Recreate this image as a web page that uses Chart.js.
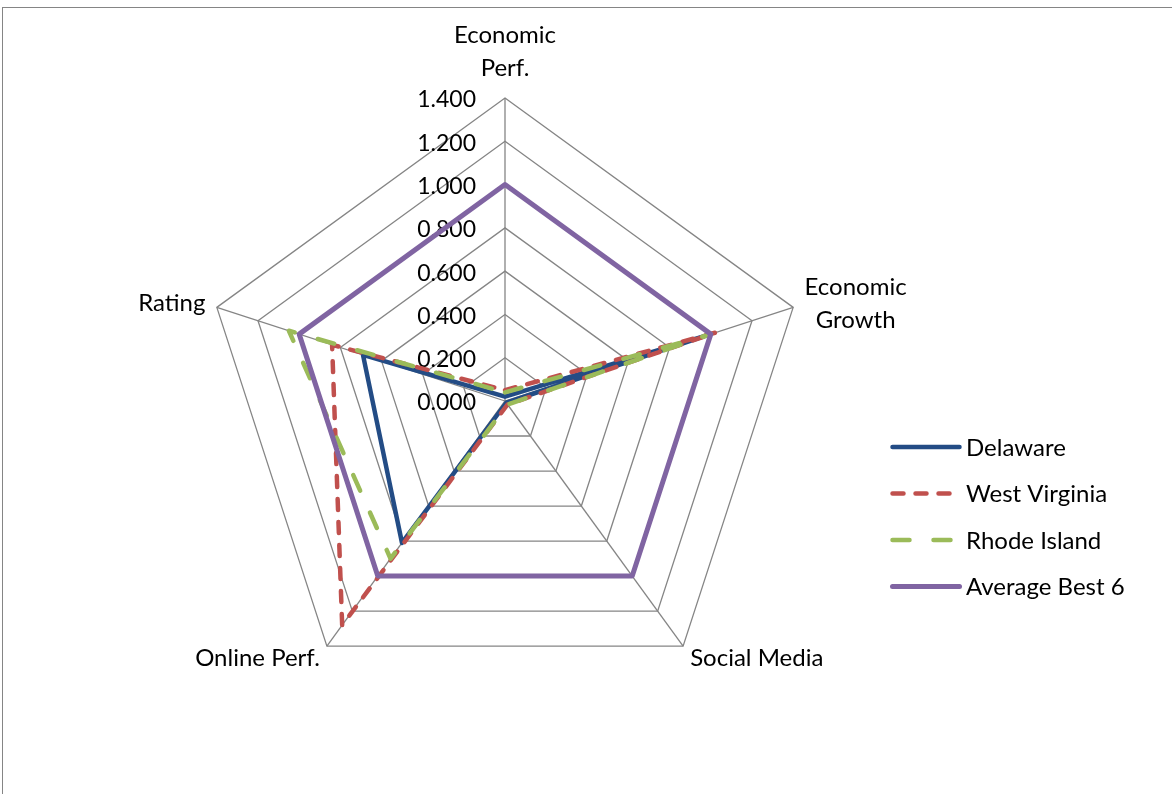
<!DOCTYPE html>
<html>
<head>
<meta charset="utf-8">
<title>State comparison radar</title>
<script src="https://cdn.jsdelivr.net/npm/chart.js@4.4.1/dist/chart.umd.min.js"></script>
<style>
  html, body { margin: 0; padding: 0; background: #fff; }
</style>
</head>
<body>
<canvas id="radarChart" width="1172" height="794"></canvas>
<script>
const categories = [['Economic', 'Perf.'], ['Economic', 'Growth'], 'Social Media', 'Online Perf.', 'Rating'];
const delaware = [0.02, 0.98, 0.01, 0.81, 0.69];
const westVirginia = [0.05, 1.02, 0.02, 1.28, 0.84];
const rhodeIsland = [0.04, 1.00, 0.02, 0.90, 1.05];
const averageBest6 = [1.00, 1.00, 1.00, 1.00, 1.00];
const tickValues = [0, 0.2, 0.4, 0.6, 0.8, 1.0, 1.2, 1.4];

const tickFont = '23px Lato, "Open Sans", sans-serif';
const labelFont = '24px Lato, "Open Sans", sans-serif';
const gridGray = '#858585';

// white page plus the thin frame round the chart
const chartFrame = {
  id: 'chartFrame',
  beforeDraw(chart) {
    const { ctx, width, height } = chart;
    ctx.save();
    ctx.fillStyle = '#ffffff';
    ctx.fillRect(0, 0, width, height);
    ctx.strokeStyle = gridGray;
    ctx.lineWidth = 1;
    ctx.strokeRect(2.5, 7.5, width + 20, height + 20);
    ctx.restore();
  }
};

// tick values left of the vertical axis, axis names outside the web
const scaleText = {
  id: 'scaleText',
  beforeDatasetsDraw(chart) {
    const r = chart.scales.r;
    const ctx = chart.ctx;
    ctx.save();
    ctx.fillStyle = '#000';
    ctx.textBaseline = 'middle';

    ctx.font = tickFont;
    ctx.textAlign = 'right';
    tickValues.forEach(v => {
      const y = r.yCenter - r.getDistanceFromCenterForValue(v);
      ctx.fillText(v.toFixed(3), r.xCenter - 29, y + 2);
    });

    ctx.font = labelFont;
    const lineGap = 33;
    categories.forEach((name, i) => {
      const lines = Array.isArray(name) ? name : [name];
      const p = r.getPointPosition(i, r.drawingArea + 12);
      ctx.textAlign = 'center';
      if (Math.abs(p.x - r.xCenter) < 1) {
        lines.forEach((t, k) => {
          ctx.fillText(t, p.x, p.y - 18 - (lines.length - 1 - k) * lineGap);
        });
      } else {
        const blockW = Math.max(...lines.map(t => ctx.measureText(t).width));
        const cx = p.x > r.xCenter ? p.x + blockW / 2 : p.x - blockW / 2;
        const cy = p.y < r.yCenter ? p.y : p.y + 2;
        lines.forEach((t, k) => {
          ctx.fillText(t, cx, cy + (k - (lines.length - 1) / 2) * lineGap);
        });
      }
    });
    ctx.restore();
  }
};

// series key on the right, one line sample per dataset
const seriesKey = {
  id: 'seriesKey',
  afterDraw(chart) {
    const ctx = chart.ctx;
    const x0 = 890, y0 = 447, rowGap = 46.5, sample = 67;
    chart.data.datasets.forEach((ds, i) => {
      const y = y0 + i * rowGap;
      ctx.save();
      ctx.strokeStyle = ds.borderColor;
      ctx.lineWidth = ds.borderWidth;
      ctx.lineCap = 'round';
      ctx.setLineDash(ds.borderDash || []);
      ctx.beginPath();
      ctx.moveTo(x0 + 2.5, y);
      ctx.lineTo(x0 + 2.5 + sample, y);
      ctx.stroke();
      ctx.setLineDash([]);
      ctx.font = labelFont;
      ctx.fillStyle = '#000';
      ctx.textAlign = 'left';
      ctx.textBaseline = 'middle';
      ctx.fillText(ds.label, 966, y + 1);
      ctx.restore();
    });
  }
};

const ctx = document.getElementById('radarChart').getContext('2d');

new Chart(ctx, {
  type: 'radar',
  data: {
    labels: categories,
    datasets: [
      {
        label: 'Delaware',
        data: delaware,
        borderColor: '#234C85',
        borderWidth: 4.5,
        order: 4
      },
      {
        label: 'West Virginia',
        data: westVirginia,
        borderColor: '#C0504D',
        borderWidth: 4.5,
        borderDash: [11, 12],
        borderCapStyle: 'round',
        order: 3
      },
      {
        label: 'Rhode Island',
        data: rhodeIsland,
        borderColor: '#9BBB59',
        borderWidth: 4.5,
        borderDash: [17, 24],
        borderCapStyle: 'round',
        order: 2
      },
      {
        label: 'Average Best 6',
        data: averageBest6,
        borderColor: '#8064A2',
        borderWidth: 5,
        order: 1
      }
    ]
  },
  options: {
    responsive: false,
    animation: false,
    events: [],
    layout: {
      padding: { left: 202, right: 364, top: 98, bottom: 90 }
    },
    elements: {
      line: { tension: 0, fill: false, borderJoinStyle: 'round' },
      point: { radius: 0, hoverRadius: 0 }
    },
    scales: {
      r: {
        min: 0,
        max: 1.4,
        ticks: { display: false, stepSize: 0.2 },
        grid: { color: gridGray, lineWidth: 1.3 },
        angleLines: { color: gridGray, lineWidth: 1.3 },
        pointLabels: { display: false }
      }
    },
    plugins: {
      legend: { display: false },
      tooltip: { enabled: false }
    }
  },
  plugins: [chartFrame, scaleText, seriesKey]
});
</script>
</body>
</html>
